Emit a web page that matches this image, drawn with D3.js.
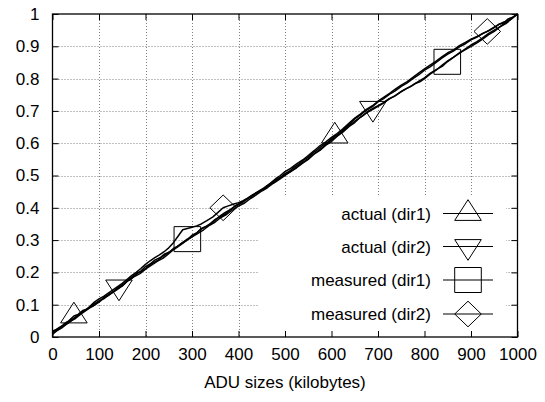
<!DOCTYPE html>
<html>
<head>
<meta charset="utf-8">
<script src="https://cdn.jsdelivr.net/npm/d3@7"></script>
<style>
  html, body { margin: 0; padding: 0; background: #fff; }
  svg { display: block; font-family: "Liberation Sans", Arial, Helvetica, sans-serif; }
</style>
</head>
<body>
<svg id="chart" width="545" height="402"></svg>
<script>
// CDF of ADU sizes (kilobytes), one [size, fraction] list per trace
const actualDir1 = [[0,0.008],[8,0.02],[16,0.026],[25,0.04],[35,0.05],[46,0.065],[55,0.07],[65,0.082],[75,0.086],[88,0.1],[100,0.112],[110,0.118],[120,0.13],[130,0.138],[140,0.15],[150,0.158],[160,0.172],[170,0.181],[180,0.195],[190,0.204],[200,0.218],[210,0.226],[220,0.238],[232,0.246],[240,0.256],[252,0.263],[260,0.274],[270,0.281],[280,0.293],[290,0.302],[300,0.315],[310,0.322],[320,0.336],[330,0.342],[340,0.352],[350,0.364],[360,0.372],[370,0.38],[380,0.39],[390,0.402],[400,0.41],[410,0.418],[420,0.428],[430,0.438],[440,0.447],[450,0.455],[460,0.466],[470,0.474],[480,0.486],[490,0.494],[500,0.506],[510,0.514],[520,0.526],[530,0.535],[540,0.548],[550,0.557],[560,0.57],[570,0.58],[580,0.592],[593,0.604],[607,0.622],[618,0.632],[630,0.648],[640,0.66],[650,0.675],[662,0.687],[675,0.702],[688,0.713],[700,0.728],[712,0.738],[725,0.752],[737,0.762],[750,0.776],[762,0.786],[775,0.8],[788,0.812],[800,0.826],[812,0.836],[825,0.85],[838,0.864],[850,0.876],[862,0.885],[875,0.898],[888,0.908],[900,0.92],[912,0.928],[925,0.94],[938,0.948],[950,0.958],[960,0.968],[970,0.975],[978,0.978],[985,0.985],[992,0.992],[1000,1.0]];
const actualDir2 = [[0,0.015],[7,0.022],[15,0.03],[22,0.036],[30,0.045],[40,0.052],[50,0.062],[62,0.076],[75,0.088],[88,0.096],[100,0.108],[110,0.12],[120,0.128],[132,0.142],[143,0.155],[155,0.166],[165,0.18],[175,0.19],[185,0.2],[192,0.204],[200,0.212],[212,0.226],[225,0.236],[238,0.25],[250,0.262],[262,0.274],[275,0.288],[288,0.298],[300,0.31],[312,0.32],[325,0.332],[338,0.346],[350,0.356],[362,0.37],[375,0.38],[388,0.394],[400,0.405],[412,0.414],[425,0.428],[438,0.44],[450,0.452],[462,0.462],[475,0.476],[488,0.488],[500,0.5],[512,0.512],[525,0.524],[538,0.538],[550,0.55],[562,0.566],[575,0.578],[588,0.594],[600,0.605],[612,0.622],[625,0.635],[638,0.652],[650,0.664],[660,0.678],[670,0.688],[680,0.7],[689,0.708],[700,0.716],[710,0.724],[722,0.736],[735,0.745],[748,0.758],[760,0.768],[770,0.775],[780,0.785],[790,0.79],[800,0.8],[812,0.814],[825,0.826],[838,0.842],[850,0.855],[862,0.866],[875,0.88],[888,0.89],[900,0.9],[912,0.91],[925,0.922],[938,0.936],[950,0.946],[962,0.96],[975,0.97],[988,0.986],[1000,1.0]];
const measuredDir1 = [[0,0.01],[10,0.02],[20,0.028],[30,0.04],[40,0.05],[50,0.058],[60,0.07],[70,0.08],[80,0.09],[90,0.102],[100,0.11],[112,0.124],[125,0.135],[138,0.146],[150,0.158],[162,0.174],[175,0.186],[188,0.196],[200,0.21],[212,0.222],[225,0.234],[238,0.244],[250,0.258],[260,0.27],[270,0.28],[280,0.29],[290,0.303],[300,0.31],[310,0.322],[320,0.334],[330,0.342],[340,0.35],[350,0.362],[360,0.374],[370,0.384],[382,0.394],[395,0.408],[408,0.418],[420,0.43],[432,0.44],[445,0.452],[458,0.462],[470,0.474],[485,0.49],[500,0.502],[512,0.512],[525,0.526],[538,0.54],[550,0.552],[562,0.566],[575,0.58],[588,0.596],[600,0.61],[612,0.622],[625,0.638],[638,0.654],[650,0.668],[662,0.68],[675,0.694],[688,0.704],[700,0.714],[712,0.724],[725,0.738],[738,0.748],[750,0.76],[762,0.77],[775,0.78],[788,0.792],[800,0.802],[812,0.816],[825,0.828],[838,0.838],[849,0.852],[862,0.866],[875,0.878],[888,0.892],[900,0.904],[912,0.914],[925,0.926],[938,0.94],[950,0.95],[962,0.96],[975,0.974],[988,0.986],[1000,1.0]];
const measuredDir2 = [[0,0.018],[10,0.024],[20,0.032],[30,0.04],[40,0.05],[50,0.062],[60,0.072],[70,0.082],[80,0.094],[90,0.108],[100,0.118],[110,0.126],[120,0.136],[130,0.146],[140,0.156],[150,0.166],[160,0.178],[170,0.19],[180,0.2],[190,0.212],[200,0.225],[210,0.236],[220,0.246],[230,0.254],[240,0.264],[250,0.276],[260,0.292],[270,0.312],[280,0.332],[290,0.336],[300,0.34],[310,0.344],[320,0.35],[332,0.36],[345,0.372],[356,0.386],[367,0.4],[378,0.406],[390,0.412],[400,0.416],[410,0.422],[420,0.43],[430,0.44],[442,0.45],[455,0.462],[468,0.476],[480,0.49],[490,0.5],[500,0.512],[512,0.522],[525,0.536],[538,0.548],[550,0.562],[562,0.576],[575,0.592],[588,0.604],[600,0.618],[612,0.63],[625,0.645],[638,0.662],[650,0.678],[662,0.69],[675,0.705],[688,0.716],[700,0.73],[712,0.742],[725,0.754],[738,0.768],[750,0.78],[762,0.79],[775,0.804],[788,0.818],[800,0.83],[812,0.842],[825,0.854],[838,0.868],[850,0.88],[862,0.888],[875,0.902],[888,0.912],[900,0.922],[918,0.934],[935,0.946],[948,0.958],[960,0.968],[970,0.972],[980,0.985],[990,0.99],[1000,1.0]];

// sizes at which each trace carries its point symbol
const markersActualDir1 = [46, 607];
const markersActualDir2 = [143, 689];
const markersMeasuredDir1 = [290, 849];
const markersMeasuredDir2 = [367, 935];

const seriesNames = ["actual (dir1)", "actual (dir2)", "measured (dir1)", "measured (dir2)"];
const symbolKinds = ["triangle", "invTriangle", "square", "diamond"];

const xTicks = [0, 100, 200, 300, 400, 500, 600, 700, 800, 900, 1000];
const yTicks = [0, 0.1, 0.2, 0.3, 0.4, 0.5, 0.6, 0.7, 0.8, 0.9, 1];
const xTitle = "ADU sizes (kilobytes)";

const series = [
  { name: seriesNames[0], kind: symbolKinds[0], data: actualDir1, marks: markersActualDir1 },
  { name: seriesNames[1], kind: symbolKinds[1], data: actualDir2, marks: markersActualDir2 },
  { name: seriesNames[2], kind: symbolKinds[2], data: measuredDir1, marks: markersMeasuredDir1 },
  { name: seriesNames[3], kind: symbolKinds[3], data: measuredDir2, marks: markersMeasuredDir2 }
];

const svg = d3.select("#chart");
const L = 52.5, R = 517.5, T = 14, B = 337;
const x = d3.scaleLinear().domain([0, 1000]).range([L, R]);
const y = d3.scaleLinear().domain([0, 1]).range([B, T]);
const fontSize = 17;
const fontFamily = "'Liberation Sans', Arial, Helvetica, sans-serif";

// dotted grid
const grid = svg.append("g").attr("stroke", "#808080").attr("stroke-width", 1)
  .attr("stroke-dasharray", "1,2");
xTicks.slice(1, -1).forEach(v => {
  grid.append("line").attr("x1", Math.round(x(v)) + 0.5).attr("x2", Math.round(x(v)) + 0.5)
    .attr("y1", T).attr("y2", B);
});
yTicks.slice(1, -1).forEach(v => {
  grid.append("line").attr("y1", Math.round(y(v)) + 0.5).attr("y2", Math.round(y(v)) + 0.5)
    .attr("x1", L).attr("x2", R);
});

// the key sits on an opaque box that hides the grid behind it
svg.append("rect").attr("x", 258).attr("y", 195).attr("width", 248).attr("height", B - 195)
  .attr("fill", "#fff");

// axes with inward ticks, mirrored on top and right
const tl = 6;
const bottomAxis = d3.axisBottom(x).tickValues(xTicks).tickSizeInner(-tl).tickSizeOuter(0).tickPadding(11)
  .tickFormat(d3.format("d"));
const leftAxis = d3.axisLeft(y).tickValues(yTicks).tickSizeInner(-tl).tickSizeOuter(0).tickPadding(13)
  .tickFormat(d => d3.format("~g")(d));
const topAxis = d3.axisTop(x).tickValues(xTicks).tickSizeInner(-tl).tickSizeOuter(0).tickFormat("");
const rightAxis = d3.axisRight(y).tickValues(yTicks).tickSizeInner(-tl).tickSizeOuter(0).tickFormat("");

function styleAxis(g) {
  g.select(".domain").remove();
  g.selectAll("line").attr("stroke", "#000").attr("stroke-width", 1);
  g.selectAll("text").attr("fill", "#000").attr("font-size", fontSize).attr("font-family", fontFamily);
}
svg.append("g").attr("transform", `translate(0,${B})`).call(bottomAxis).call(styleAxis);
svg.append("g").attr("transform", `translate(${L},0)`).call(leftAxis).call(styleAxis);
svg.append("g").attr("transform", `translate(0,${T})`).call(topAxis).call(styleAxis);
svg.append("g").attr("transform", `translate(${R},0)`).call(rightAxis).call(styleAxis);

// frame
svg.append("rect").attr("x", L).attr("y", T).attr("width", R - L).attr("height", B - T)
  .attr("fill", "none").attr("stroke", "#000").attr("stroke-width", 1.3);

// axis title
svg.append("text").attr("x", (L + R) / 2).attr("y", 388).attr("text-anchor", "middle")
  .attr("font-size", fontSize).attr("fill", "#000").text(xTitle);

// symbol paths, centred on (0,0)
function symbolPath(kind) {
  const h = 13.3;
  switch (kind) {
    case "triangle": return `M0,${-13.8}L${h},${6.9}L${-h},${6.9}Z`;
    case "invTriangle": return `M0,${13.8}L${h},${-6.9}L${-h},${-6.9}Z`;
    case "square": return `M${-h},${-12.5}H${h}V${12.5}H${-h}Z`;
    case "diamond": return `M0,${-12.8}L${h},0L0,${12.8}L${-h},0Z`;
  }
}

// traces
const line = d3.line().x(d => x(d[0])).y(d => y(d[1]));
const traces = svg.append("g");
series.forEach(s => {
  traces.append("path").datum(s.data).attr("d", line)
    .attr("fill", "none").attr("stroke", "#000").attr("stroke-width", 1.5)
    .attr("stroke-linejoin", "round");
  s.marks.forEach(mx => {
    const pt = s.data.find(d => d[0] === mx);
    traces.append("path").attr("d", symbolPath(s.kind))
      .attr("transform", `translate(${x(pt[0])},${y(pt[1])})`)
      .attr("fill", "none").attr("stroke", "#000").attr("stroke-width", 1);
  });
});

// key
const keyRows = [213.5, 246.5, 280, 314];
const key = svg.append("g");
series.forEach((s, i) => {
  const cy = keyRows[i];
  key.append("text").attr("x", 431).attr("y", cy + 6).attr("text-anchor", "end")
    .attr("font-size", fontSize).attr("fill", "#000").text(s.name);
  key.append("line").attr("x1", 443).attr("x2", 493).attr("y1", cy).attr("y2", cy)
    .attr("stroke", "#000").attr("stroke-width", 1.2);
  key.append("path").attr("d", symbolPath(s.kind)).attr("transform", `translate(468,${cy})`)
    .attr("fill", "none").attr("stroke", "#000").attr("stroke-width", 1);
});
</script>
</body>
</html>
